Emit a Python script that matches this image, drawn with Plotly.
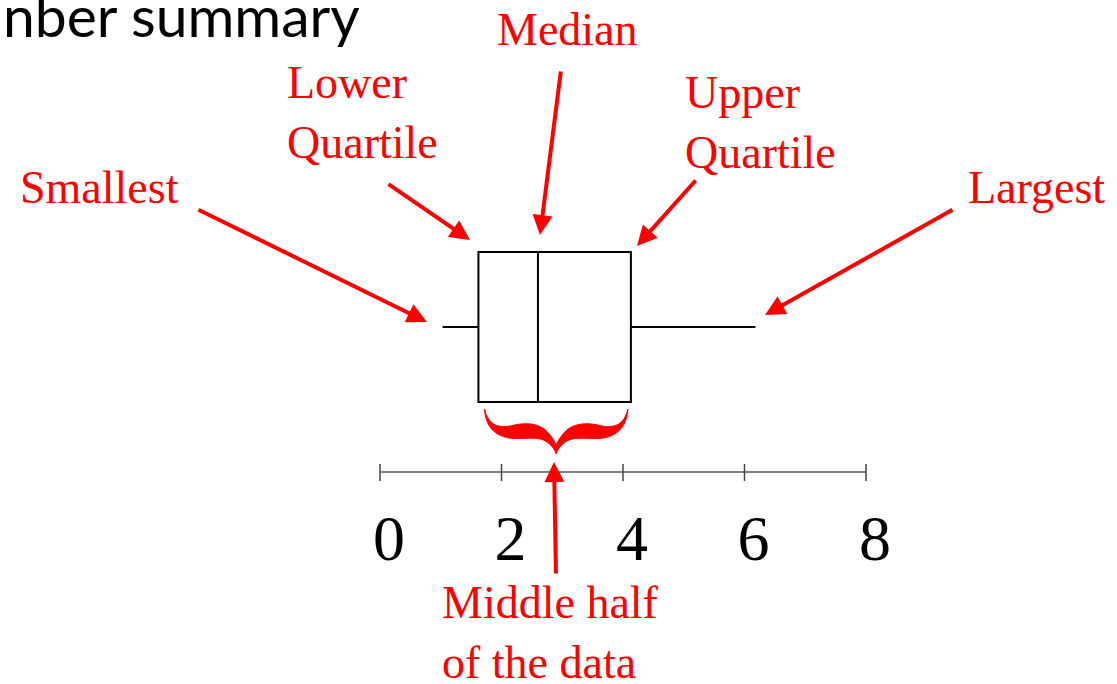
import plotly.graph_objects as go

# ---------------- data ----------------
tick_values = [0, 2, 4, 6, 8]
tick_labels = ["0", "2", "4", "6", "8"]
box_min = [1.03]
box_q1 = [1.62]
box_median = [2.60]
box_q3 = [4.13]
box_max = [6.18]

title_text = "nber summary"
label_texts = ["Smallest", "Lower<br>Quartile", "Median", "Upper<br>Quartile", "Largest",
               "Middle half<br>of the data"]

# ---------------- layout constants (pixels) ----------------
W, H = 1117, 684
AX_LEFT_PX, AX_RIGHT_PX = 380, 866
AXIS_Y_PX = 472
BOX_Y_PX = 327
BOX_H_PX = 150
RED = "#FF0000"
SERIF = "Liberation Serif, Times New Roman, serif"

# label placement: (left x px, centre y px)
label_pos = [(18, 187), (285, 112), (495, 29), (683, 122.5), (966, 187), (440, 632)]
# arrows: (tip x px, tip y px, tail x px, tail y px)
arrows = [(427, 322, 197, 209), (470, 240, 387, 183), (540, 235, 561, 70),
          (637, 246, 697, 179), (765, 315, 954, 209), (554, 462, 556, 575)]

px_per_unit = (AX_RIGHT_PX - AX_LEFT_PX) / (tick_values[-1] - tick_values[0])


def px_to_x(px):
    return tick_values[0] + (px - AX_LEFT_PX) / px_per_unit


fig = go.Figure()
fig.add_trace(go.Box(
    orientation="h", y=[BOX_Y_PX], q1=box_q1, median=box_median, q3=box_q3,
    lowerfence=box_min, upperfence=box_max, width=BOX_H_PX,
    fillcolor="white", line=dict(color="black", width=2), whiskerwidth=0,
    boxpoints=False, hoverinfo="skip", showlegend=False,
))

shapes = []
# number line from first to last tick
shapes.append(dict(type="line", xref="x", yref="y", x0=tick_values[0], x1=tick_values[-1],
                   y0=AXIS_Y_PX, y1=AXIS_Y_PX, line=dict(color="#7f7f7f", width=2)))
# tick marks crossing the axis line
for v in tick_values:
    shapes.append(dict(type="line", xref="x", yref="y", x0=v, x1=v,
                       y0=AXIS_Y_PX - 8, y1=AXIS_Y_PX + 9,
                       line=dict(color="#444444", width=1.5)))

# curly brace under the box (middle half of the data)
bl = box_q1[0] + 0.1
br = box_q3[0] - 0.05


def bx(u):
    return bl + u * (br - bl)


# left half of brace in (u, y_px); u = 0 left tip, 0.5 centre
upper_start = (0.0, 409)
upper_segs = [[(0.028, 425), (0.090, 428), (0.181, 426)],
              [(0.257, 423), (0.347, 422), (0.417, 429)],
              [(0.458, 434), (0.486, 440), (0.5, 445)]]
lower_start = (0.5, 454)
lower_segs = [[(0.493, 450), (0.472, 446), (0.4375, 442)],
              [(0.375, 436), (0.306, 439), (0.201, 438.5)],
              [(0.0625, 437), (0.007, 425), (0.0, 409)]]


def reverse(start, segs):
    nodes = [start] + [s[2] for s in segs]
    out = []
    for i in range(len(segs) - 1, -1, -1):
        c1, c2, _ = segs[i]
        out.append([c2, c1, nodes[i]])
    return nodes[-1], out


def mirror(segs):
    return [[(1 - u, v) for u, v in s] for s in segs]


_, up_rev = reverse(upper_start, upper_segs)
_, low_rev = reverse(lower_start, lower_segs)
all_segs = upper_segs + mirror(up_rev) + mirror(low_rev) + lower_segs
path = "M %.4f,%.2f" % (bx(upper_start[0]), upper_start[1])
for seg in all_segs:
    path += " C " + " ".join("%.4f,%.2f" % (bx(u), v) for u, v in seg)
path += " Z"
shapes.append(dict(type="path", xref="x", yref="y", path=path,
                   fillcolor=RED, line=dict(color=RED, width=1)))

annotations = []
# title (partially cut off at the left edge)
annotations.append(dict(text=title_text, xref="x", yref="y",
                        x=px_to_x(362), y=15, xanchor="right", yanchor="middle",
                        showarrow=False, font=dict(family="Lato, Open Sans, sans-serif",
                                                   size=57, color="black")))
for txt, (lx, ly) in zip(label_texts, label_pos):
    annotations.append(dict(text=txt, xref="x", yref="y",
                            x=px_to_x(lx), y=ly, xanchor="left", yanchor="middle",
                            align="left", showarrow=False,
                            font=dict(family=SERIF, size=46, color=RED)))
for tx, ty, sx, sy in arrows:
    annotations.append(dict(text="", xref="x", yref="y", x=px_to_x(tx), y=ty,
                            axref="pixel", ayref="pixel", ax=sx - tx, ay=sy - ty,
                            showarrow=True, arrowhead=2, arrowsize=1, arrowwidth=4,
                            arrowcolor=RED, standoff=0))

fig.update_layout(
    width=W, height=H, autosize=False, margin=dict(l=0, r=0, t=0, b=0, pad=0),
    paper_bgcolor="white", plot_bgcolor="white",
    shapes=shapes, annotations=annotations,
    xaxis=dict(domain=[0, 1], range=[px_to_x(0), px_to_x(W)],
               anchor="free", position=1 - AXIS_Y_PX / H,
               showline=False, ticks="", tickmode="array",
               tickvals=tick_values, ticktext=tick_labels,
               tickfont=dict(family=SERIF, size=64, color="black"),
               ticklabelshift=9, ticklabelstandoff=23, automargin=False,
               showgrid=False, zeroline=False, fixedrange=True),
    yaxis=dict(domain=[0, 1], range=[H, 0], visible=False, fixedrange=True,
               automargin=False),
    showlegend=False,
)

fig.write_html(
    "out.html",
    config={"responsive": False, "displayModeBar": False},
    post_script="document.body.style.margin='0';document.body.style.overflow='hidden';",
)
